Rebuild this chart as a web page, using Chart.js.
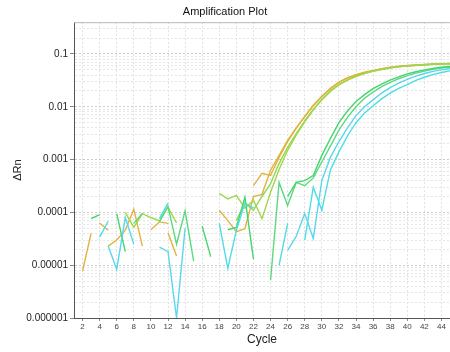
<!DOCTYPE html>
<html>
<head>
<meta charset="utf-8">
<script src="https://cdn.jsdelivr.net/npm/chart.js@4/dist/chart.umd.min.js"></script>
<style>
  html, body { margin: 0; padding: 0; background: #fff; }
  #wrap { width: 450px; height: 352px; }
</style>
</head>
<body>
<div id="wrap"><canvas id="ampChart" width="450" height="352"></canvas></div>
<script>
// cycles 2..45
const cycles = [2, 3, 4, 5, 6, 7, 8, 9, 10, 11, 12, 13, 14, 15, 16, 17, 18, 19, 20, 21, 22, 23,
  24, 25, 26, 27, 28, 29, 30, 31, 32, 33, 34, 35, 36, 37, 38, 39, 40, 41, 42, 43, 44, 45];
const xTicks = [2, 4, 6, 8, 10, 12, 14, 16, 18, 20, 22, 24, 26, 28, 30, 32, 34, 36, 38, 40, 42, 44];
const yDecades = [1e-6, 1e-5, 1e-4, 1e-3, 1e-2, 1e-1];
const yLabels = ['0.000001', '0.00001', '0.0001', '0.001', '0.01', '0.1'];
const yMin = 1e-6;
const yMax = 0.4;

// ΔRn per cycle, null = no point (value below zero)
const goldA = [
  7.8e-6, 4.0e-5, null, 2.3e-5, 3.0e-5, 4.6e-5, 1.15e-4, 2.3e-5, null, null,
  4.1e-5, 1.5e-5, null, null, null, null, 1.1e-4, 7.0e-5, 4.3e-5, 4.9e-5,
  2.0e-4, 2.2e-4, 6.3e-4, 1.2e-3, 2.3e-3, 4.0e-3, 6.6e-3, 1.07e-2, 1.58e-2, 2.24e-2,
  2.95e-2, 3.55e-2, 4.07e-2, 4.5e-2, 4.9e-2, 5.25e-2, 5.6e-2, 5.85e-2, 6.05e-2, 6.2e-2,
  6.35e-2, 6.45e-2, 6.55e-2, 6.65e-2];
const goldB = [
  null, null, 6.3e-5, 4.6e-5, null, null, null, null, 4.7e-5, 6.6e-5,
  6.2e-5, null, null, null, null, null, null, null, null, null,
  3.2e-4, 5.5e-4, 5.0e-4, 1.1e-3, 2.2e-3, 3.9e-3, 6.5e-3, 1.05e-2, 1.55e-2, 2.2e-2,
  2.9e-2, 3.5e-2, 4.0e-2, 4.45e-2, 4.85e-2, 5.2e-2, 5.55e-2, 5.8e-2, 6.0e-2, 6.15e-2,
  6.3e-2, 6.4e-2, 6.5e-2, 6.6e-2];
const ygreenA = [
  null, null, null, null, null, 1.0e-4, 5.2e-5, 9.5e-5, 8.0e-5, 6.9e-5,
  1.26e-4, 6.3e-5, null, null, null, null, 2.3e-4, 1.8e-4, 2.1e-4, 1.2e-4,
  1.7e-4, 7.6e-5, 2.4e-4, 6.5e-4, 1.5e-3, 2.9e-3, 5.2e-3, 8.7e-3, 1.35e-2, 1.95e-2,
  2.6e-2, 3.2e-2, 3.75e-2, 4.25e-2, 4.7e-2, 5.05e-2, 5.4e-2, 5.7e-2, 5.9e-2, 6.05e-2,
  6.2e-2, 6.35e-2, 6.45e-2, 6.5e-2];
const ygreenB = [
  null, null, null, null, null, null, null, null, null, null,
  null, null, null, null, null, null, null, null, 7.0e-5, 1.5e-4,
  1.1e-4, 2.0e-4, 3.5e-4, 8.5e-4, 1.7e-3, 3.1e-3, 5.4e-3, 9.0e-3, 1.38e-2, 2.0e-2,
  2.65e-2, 3.25e-2, 3.8e-2, 4.3e-2, 4.75e-2, 5.1e-2, 5.45e-2, 5.75e-2, 5.95e-2, 6.1e-2,
  6.25e-2, 6.4e-2, 6.5e-2, 6.55e-2];
const greenA = [
  null, 7.6e-5, 9.1e-5, null, 9.5e-5, 1.8e-5, null, null, null, null,
  null, null, null, null, 5.5e-5, 1.45e-5, null, 4.7e-5, 5.2e-5, 1.95e-4,
  1.3e-5, null, null, null, 2.0e-4, 3.7e-4, 4.0e-4, 5.0e-4, 1.2e-3, 2.5e-3,
  5.0e-3, 8.3e-3, 1.26e-2, 1.7e-2, 2.2e-2, 2.7e-2, 3.2e-2, 3.7e-2, 4.2e-2, 4.6e-2,
  5.0e-2, 5.3e-2, 5.6e-2, 5.8e-2];
const greenB = [
  null, null, null, null, null, null, 6.2e-5, 9.5e-5, null, 6.6e-5,
  1.3e-4, 2.5e-5, 1.07e-4, 1.2e-5, null, null, null, null, null, null,
  null, null, 5.2e-6, 3.7e-4, 1.35e-4, 3.7e-4, 3.2e-4, 4.5e-4, 9.0e-4, 1.8e-3,
  3.6e-3, 6.3e-3, 1.0e-2, 1.45e-2, 1.9e-2, 2.4e-2, 2.9e-2, 3.4e-2, 3.9e-2, 4.35e-2,
  4.75e-2, 5.1e-2, 5.4e-2, 5.6e-2];
const cyanA = [
  null, null, 3.4e-5, 6.8e-5, null, null, null, null, null, 7.6e-5,
  1.5e-4, null, null, null, null, null, 6.2e-5, 8.7e-6, 4.6e-5, 1.5e-4,
  1.2e-4, null, null, 1.0e-5, 6.2e-5, null, 3.0e-5, 3.0e-4, 1.1e-4, 6.3e-4,
  1.4e-3, 2.8e-3, 5.0e-3, 7.6e-3, 1.05e-2, 1.41e-2, 1.82e-2, 2.24e-2, 2.63e-2, 3.16e-2,
  3.63e-2, 4.07e-2, 4.47e-2, 4.79e-2];
const cyanB = [
  null, null, null, 2.3e-5, 8.3e-6, 8.0e-5, 2.5e-5, null, null, 2.2e-5,
  1.8e-5, 1.0e-6, 5.0e-5, null, null, null, null, null, null, null,
  null, null, null, null, 1.9e-5, 3.5e-5, 9.5e-5, 3.2e-5, 4.0e-4, 1.1e-3,
  2.2e-3, 4.0e-3, 6.8e-3, 1.0e-2, 1.35e-2, 1.82e-2, 2.3e-2, 2.8e-2, 3.3e-2, 3.8e-2,
  4.27e-2, 4.68e-2, 5.0e-2, 5.25e-2];

const series = [
  { data: cyanA, color: '#4ddde2' },
  { data: cyanB, color: '#5ad6ee' },
  { data: greenA, color: '#45d46e' },
  { data: greenB, color: '#5cd97e' },
  { data: ygreenA, color: '#a2d64a' },
  { data: ygreenB, color: '#8fd852' },
  { data: goldA, color: '#e2b23c' },
  { data: goldB, color: '#dcb445' }
];

function isDecade(v) {
  return yDecades.some(d => Math.abs(v / d - 1) < 1e-6);
}

// light line along the top of the plot area
const topBorder = {
  id: 'topBorder',
  afterDraw(chart) {
    const { ctx, chartArea } = chart;
    ctx.save();
    ctx.strokeStyle = '#b8b8b8';
    ctx.lineWidth = 1;
    ctx.beginPath();
    ctx.moveTo(chartArea.left, chartArea.top + 0.5);
    ctx.lineTo(chartArea.right, chartArea.top + 0.5);
    ctx.stroke();
    ctx.restore();
  }
};

const ctx = document.getElementById('ampChart').getContext('2d');
new Chart(ctx, {
  type: 'line',
  data: {
    datasets: series.map(s => ({
      data: cycles.map((c, i) => ({ x: c, y: s.data[i] })),
      borderColor: s.color,
      borderWidth: 1.4,
      pointRadius: 0,
      tension: 0,
      spanGaps: false,
      fill: false
    }))
  },
  options: {
    responsive: false,
    animation: false,
    layout: { padding: 0 },
    plugins: {
      legend: { display: false },
      tooltip: { enabled: false },
      title: {
        display: true,
        text: 'Amplification Plot',
        color: '#111',
        font: { family: 'Liberation Sans, Arial, sans-serif', size: 11, weight: 'normal' },
        padding: { top: 5, bottom: 4 }
      }
    },
    scales: {
      x: {
        type: 'linear',
        min: 1,
        max: 45,
        afterBuildTicks: scale => { scale.ticks = xTicks.map(v => ({ value: v })); },
        afterFit: scale => { scale.height = 34; },
        ticks: {
          autoSkip: false,
          maxRotation: 0,
          padding: 1,
          color: '#444',
          font: { family: 'Liberation Sans, Arial, sans-serif', size: 8 }
        },
        grid: {
          color: '#e0e0e0',
          tickColor: '#888',
          tickLength: 3
        },
        border: { color: '#555', width: 1, dash: [2, 2] },
        title: {
          display: true,
          text: 'Cycle',
          color: '#222',
          font: { family: 'Liberation Sans, Arial, sans-serif', size: 12 },
          padding: { top: 0, bottom: 5 }
        }
      },
      y: {
        type: 'logarithmic',
        min: yMin,
        max: yMax,
        afterBuildTicks: scale => {
          const t = [];
          yDecades.forEach(d => {
            for (let m = 1; m <= 9; m++) {
              const v = m * d;
              if (v <= yMax * 1.0001) t.push({ value: v });
            }
          });
          scale.ticks = t;
        },
        afterFit: scale => { scale.width = 74; },
        ticks: {
          autoSkip: false,
          padding: 2,
          color: '#222',
          font: { family: 'Liberation Sans, Arial, sans-serif', size: 10 },
          callback: v => {
            const i = yDecades.findIndex(d => Math.abs(v / d - 1) < 1e-6);
            return i >= 0 ? yLabels[i] : '';
          }
        },
        grid: {
          color: c => (c.tick && isDecade(c.tick.value)) ? '#cccccc' : '#e6e6e6',
          tickColor: c => (c.tick && isDecade(c.tick.value)) ? '#888' : 'rgba(0,0,0,0)',
          tickLength: 4
        },
        border: { color: '#555', width: 1, dash: [2, 2] },
        title: {
          display: true,
          text: 'ΔRn',
          color: '#222',
          font: { family: 'Liberation Sans, Arial, sans-serif', size: 11 },
          padding: { top: 11, bottom: 0 }
        }
      }
    }
  },
  plugins: [topBorder]
});
</script>
</body>
</html>
